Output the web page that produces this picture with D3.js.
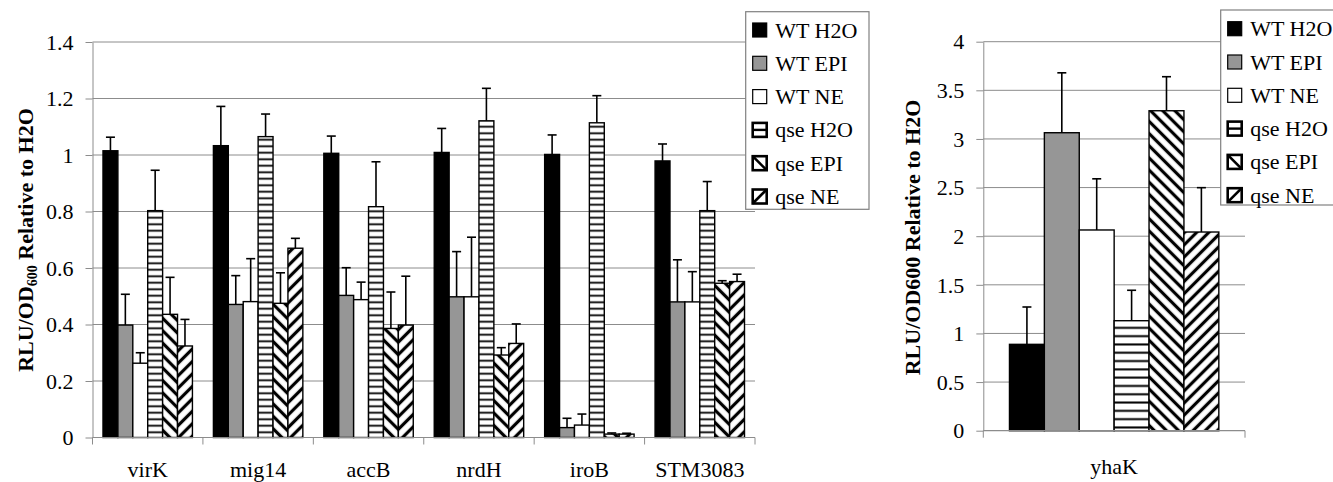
<!DOCTYPE html>
<html><head><meta charset="utf-8">
<script src="https://cdn.jsdelivr.net/npm/d3@7"></script>
<style>body{margin:0;background:#fff}svg{display:block}
svg text{font-family:"Liberation Serif","Tinos","Times New Roman",Times,"DejaVu Serif",serif !important}</style>
</head><body>
<svg id="c" width="1333" height="482"></svg>
<script>
// ---------- DATA ----------
const categories = ["virK","mig14","accB","nrdH","iroB","STM3083"];
const series = ["WT H2O","WT EPI","WT NE","qse H2O","qse EPI","qse NE"];
// values per series across categories (left chart)
const wtH2O  = [1.015, 1.033, 1.006, 1.009, 1.002, 0.979];
const wtEPI  = [0.398, 0.471, 0.503, 0.498, 0.035, 0.480];
const wtNE   = [0.263, 0.481, 0.488, 0.498, 0.044, 0.480];
const qseH2O = [0.803, 1.065, 0.817, 1.121, 1.114, 0.803];
const qseEPI = [0.436, 0.475, 0.386, 0.292, 0.012, 0.546];
const qseNE  = [0.324, 0.670, 0.398, 0.333, 0.012, 0.552];
// error (upper) per series across categories (left chart)
const errWtH2O  = [0.048, 0.139, 0.061, 0.085, 0.069, 0.060];
const errWtEPI  = [0.109, 0.102, 0.098, 0.160, 0.033, 0.149];
const errWtNE   = [0.037, 0.152, 0.062, 0.211, 0.039, 0.107];
const errQseH2O = [0.143, 0.080, 0.159, 0.115, 0.096, 0.103];
const errQseEPI = [0.131, 0.108, 0.129, 0.026, 0.004, 0.009];
const errQseNE  = [0.094, 0.035, 0.173, 0.069, 0.003, 0.026];
// right chart
const rightCategories = ["yhaK"];
const rightValues = [0.888, 3.064, 2.064, 1.131, 3.290, 2.043];
const rightErrors = [0.384, 0.616, 0.526, 0.313, 0.350, 0.456];
// tick labels
const leftTicks = [0, 0.2, 0.4, 0.6, 0.8, 1, 1.2, 1.4];
const leftTickLabels = ["0","0.2","0.4","0.6","0.8","1","1.2","1.4"];
const rightTicks = [0, 0.5, 1, 1.5, 2, 2.5, 3, 3.5, 4];
const rightTickLabels = ["0","0.5","1","1.5","2","2.5","3","3.5","4"];

const leftVals = [wtH2O, wtEPI, wtNE, qseH2O, qseEPI, qseNE];
const leftErrs = [errWtH2O, errWtEPI, errWtNE, errQseH2O, errQseEPI, errQseNE];

// ---------- DRAW ----------
const FONT = '"Liberation Serif","Tinos","Times New Roman",Times,"DejaVu Serif",serif';
const svg = d3.select("#c");
const defs = svg.append("defs");
const GRID = "#8c8c8c";

function stripes(id, period, sw, angle){
  const p = defs.append("pattern").attr("id", id).attr("patternUnits","userSpaceOnUse")
    .attr("width", 10).attr("height", period);
  if (angle) p.attr("patternTransform", `rotate(${angle})`);
  p.append("rect").attr("width",10).attr("height",period).attr("fill","#fff");
  p.append("rect").attr("x",0).attr("y",period/2 - sw/2).attr("width",10).attr("height",sw).attr("fill","#000");
}
stripes("hsL", 6.5, 1.8, 0);
stripes("hsR", 8.3, 2.0, 0);
stripes("d1L", 8.8, 3.2, 45);
stripes("d2L", 8.8, 3.2, -45);
stripes("d1R", 8.6, 3.2, 45);
stripes("d2R", 8.6, 3.2, -45);

const fillsL = ["#000","#969696","#fff","url(#hsL)","url(#d1L)","url(#d2L)"];
const fillsR = ["#000","#969696","#fff","url(#hsR)","url(#d1R)","url(#d2R)"];

function chart(opts){
  const {cats, vals, errs, x0, x1, yTop, yBot, ticks, tickLabels, yMax, pad, fills, labelY} = opts;
  const g = svg.append("g");
  const y = d3.scaleLinear().domain([0, yMax]).range([yBot, yTop]);
  const x = d3.scaleBand().domain(cats).range([x0, x1]).padding(0);
  const bw = x.bandwidth();
  const xs = d3.scaleBand().domain(series).range([bw*pad, bw*(1-pad)]).padding(0);

  g.append("g").selectAll("line").data(ticks.filter(t=>t>0)).join("line")
    .attr("x1", x0).attr("x2", x1).attr("y1", d=>y(d)).attr("y2", d=>y(d))
    .attr("stroke", GRID).attr("stroke-width", 1);

  const ay = g.append("g").attr("transform", `translate(${x0},0)`)
    .call(d3.axisLeft(y).tickValues(ticks).tickSize(7).tickSizeOuter(0).tickPadding(12)
      .tickFormat((d,i)=>tickLabels[i]));
  ay.attr("font-family", FONT).attr("font-size", 22);
  ay.select(".domain").attr("stroke", GRID);
  ay.selectAll(".tick line").attr("stroke", GRID);
  ay.selectAll(".tick text").attr("fill","#000").attr("dy","0.33em");

  series.forEach((s, si) => {
    g.append("g").selectAll("rect").data(cats.map((c, ci) => ({c, v: vals[si][ci]}))).join("rect")
      .attr("x", d => x(d.c) + xs(s)).attr("width", xs.bandwidth())
      .attr("y", d => y(d.v)).attr("height", d => y(0) - y(d.v))
      .attr("fill", fills[si]).attr("stroke", "#000").attr("stroke-width", 1.4);
  });
  series.forEach((s, si) => {
    const ge = g.append("g").attr("stroke","#000").attr("stroke-width",1.6);
    cats.forEach((c, ci) => {
      const cx = x(c) + xs(s) + xs.bandwidth()/2;
      const v = vals[si][ci], e = errs[si][ci];
      ge.append("line").attr("x1",cx).attr("x2",cx).attr("y1",y(v)).attr("y2",y(v+e));
      ge.append("line").attr("x1",cx-4.5).attr("x2",cx+4.5).attr("y1",y(v+e)).attr("y2",y(v+e));
    });
  });

  g.append("line").attr("x1", x0).attr("x2", x1).attr("y1", y(0)).attr("y2", y(0))
    .attr("stroke", GRID).attr("stroke-width", 1.2);
  const bounds = cats.map(c => x(c)).concat([x1]);
  g.append("g").selectAll("line").data(bounds).join("line")
    .attr("x1", d=>d).attr("x2", d=>d).attr("y1", y(0)).attr("y2", y(0)+7)
    .attr("stroke", GRID);
  g.append("g").selectAll("text").data(cats).join("text")
    .attr("x", c => x(c) + bw/2).attr("y", labelY).attr("text-anchor","middle")
    .attr("font-family", FONT).attr("font-size", 22).text(c=>c);
  return g;
}

chart({cats: categories, vals: leftVals, errs: leftErrs, x0: 92.5, x1: 755, yTop: 42, yBot: 437.5,
  ticks: leftTicks, tickLabels: leftTickLabels, yMax: 1.4, pad: 0.095, fills: fillsL, labelY: 477});

chart({cats: rightCategories, vals: rightValues.map(v=>[v]), errs: rightErrors.map(v=>[v]),
  x0: 983.3, x1: 1245, yTop: 41.7, yBot: 430.7,
  ticks: rightTicks, tickLabels: rightTickLabels, yMax: 4, pad: 0.1, fills: fillsR, labelY: 474});

const t1 = svg.append("text").attr("transform","translate(33,240) rotate(-90)").attr("text-anchor","middle")
  .attr("font-family", FONT).attr("font-size", 22).attr("font-weight","bold");
t1.append("tspan").text("RLU/OD");
t1.append("tspan").attr("dy","0.25em").attr("font-size", 14).text("600");
t1.append("tspan").attr("dy","-0.18em").text(" Relative to H2O");

svg.append("text").attr("transform","translate(920,237.5) rotate(-90)").attr("text-anchor","middle")
  .attr("font-family", FONT).attr("font-size", 22).attr("font-weight","bold").text("RLU/OD600 Relative to H2O");

function legend(bx, by, bw, bh, firstY){
  const g = svg.append("g");
  g.append("rect").attr("x",bx).attr("y",by).attr("width",bw).attr("height",bh)
    .attr("fill","#fff").attr("stroke","#808080").attr("stroke-width",1.2);
  series.forEach((s,i)=>{
    const cy = firstY + i*33.3;
    const sx = bx + 7, sz = 14;
    const isPat = i >= 3;
    g.append("rect").attr("x", sx).attr("y", cy - sz/2).attr("width", sz).attr("height", sz)
      .attr("fill", i<3 ? fillsL[i] : "#fff").attr("stroke","#000").attr("stroke-width", isPat ? 2.6 : 1.2);
    if (i===3) g.append("line").attr("x1",sx).attr("x2",sx+sz).attr("y1",cy).attr("y2",cy).attr("stroke","#000").attr("stroke-width",2.4);
    if (i===4) g.append("line").attr("x1",sx).attr("x2",sx+sz).attr("y1",cy-sz/2).attr("y2",cy+sz/2).attr("stroke","#000").attr("stroke-width",2.6);
    if (i===5) g.append("line").attr("x1",sx).attr("x2",sx+sz).attr("y1",cy+sz/2).attr("y2",cy-sz/2).attr("stroke","#000").attr("stroke-width",2.6);
    g.append("text").attr("x", bx + 29.5).attr("y", cy + 7.5)
      .attr("font-family", FONT).attr("font-size", 22).text(s);
  });
}
legend(745.7, 11.7, 123.3, 197.6, 30);
legend(1220.7, 10, 123.3, 195, 28.7);
</script>
</body></html>
